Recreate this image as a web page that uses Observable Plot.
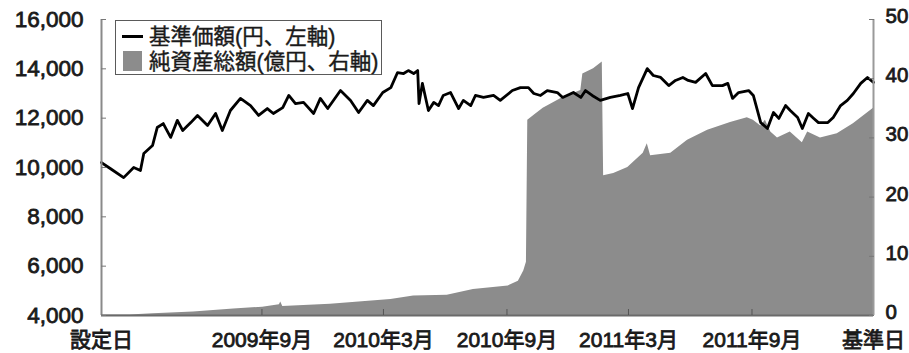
<!DOCTYPE html>
<html><head><meta charset="utf-8">
<script src="https://cdn.jsdelivr.net/npm/d3@7"></script>
<script src="https://cdn.jsdelivr.net/npm/@observablehq/plot@0.6"></script>
<style>
html,body{margin:0;padding:0;background:#fff;overflow:hidden;}
#wrap{position:relative;width:909px;height:353px;}
#wrap svg text{stroke:#1a1a1a;stroke-width:0.8px;paint-order:stroke;}
#legend{position:absolute;left:115px;top:20px;width:267px;height:55px;border:1.5px solid #5a5a5a;background:#fff;box-sizing:border-box;font-family:"Liberation Sans","Noto Sans CJK JP",sans-serif;font-size:21.5px;color:#1a1a1a;-webkit-text-stroke:0.4px #1a1a1a;}
#legend .sym-line{position:absolute;left:5.5px;top:14px;width:21px;height:3px;background:#000;}
#legend .sym-box{position:absolute;left:6.5px;top:30px;width:19px;height:20px;background:#8c8c8c;}
#legend .t{position:absolute;left:33px;line-height:22px;white-space:nowrap;}
</style></head>
<body>
<div id="wrap"></div>
<script>
// ---- data ----
const xStart = "2009-01-05";
const xEnd = "2012-02-29";
const navDates = ["2009-01-05","2009-01-18","2009-02-07","2009-02-22","2009-03-04","2009-03-09","2009-03-22","2009-03-29","2009-04-07","2009-04-18","2009-04-28","2009-05-06","2009-05-18","2009-05-28","2009-06-12","2009-06-24","2009-07-04","2009-07-16","2009-07-31","2009-08-15","2009-08-27","2009-09-09","2009-09-18","2009-10-02","2009-10-11","2009-10-21","2009-11-02","2009-11-17","2009-11-27","2009-12-08","2009-12-27","2010-01-11","2010-01-23","2010-02-05","2010-02-14","2010-02-28","2010-03-12","2010-03-22","2010-03-31","2010-04-07","2010-04-15","2010-04-21","2010-04-23","2010-04-28","2010-05-03","2010-05-07","2010-05-15","2010-05-22","2010-05-29","2010-06-09","2010-06-21","2010-06-28","2010-07-09","2010-07-16","2010-07-28","2010-08-12","2010-08-22","2010-09-09","2010-09-21","2010-10-03","2010-10-11","2010-10-21","2010-10-31","2010-11-15","2010-11-23","2010-12-09","2010-12-20","2010-12-27","2011-01-06","2011-01-18","2011-02-02","2011-02-17","2011-02-28","2011-03-07","2011-03-16","2011-03-29","2011-04-07","2011-04-18","2011-04-30","2011-05-10","2011-05-21","2011-05-29","2011-06-09","2011-06-24","2011-07-04","2011-07-19","2011-07-27","2011-08-03","2011-08-12","2011-08-27","2011-09-03","2011-09-14","2011-09-24","2011-10-03","2011-10-11","2011-10-21","2011-10-28","2011-11-08","2011-11-15","2011-11-24","2011-12-02","2011-12-09","2011-12-23","2011-12-31","2012-01-11","2012-01-21","2012-01-30","2012-02-10","2012-02-20","2012-02-29"];
const navValues = [10200,9960,9590,10000,9880,10570,10890,11620,11780,11220,11910,11500,11820,12110,11700,12190,11500,12310,12800,12510,12110,12390,12190,12430,12920,12590,12640,12190,12800,12390,13120,12720,12230,12720,12510,13040,13240,13850,13810,13930,13810,13930,12590,13410,12800,12310,12640,12510,12920,13040,12390,12720,12510,12920,12840,12920,12720,13120,13240,13240,13000,12920,13120,13040,12840,13040,12840,13120,12920,12720,12840,12920,13000,12390,13240,14010,13730,13650,13320,13530,13650,13530,13450,13810,13320,13320,13410,12800,13040,13120,12920,11820,11580,12230,11990,12510,12310,12030,11580,12190,11990,11820,11820,12030,12510,12720,13000,13410,13650,13450];
const assetDates = ["2009-01-05","2009-02-16","2009-03-23","2009-05-22","2009-07-21","2009-09-02","2009-09-27","2009-09-29","2009-10-02","2009-12-12","2010-03-12","2010-04-15","2010-06-04","2010-07-13","2010-09-03","2010-09-18","2010-09-26","2010-09-30","2010-10-02","2010-10-11","2010-10-25","2010-11-20","2010-12-20","2010-12-23","2011-01-08","2011-01-21","2011-01-23","2011-02-07","2011-02-28","2011-03-19","2011-03-23","2011-03-29","2011-04-03","2011-05-03","2011-05-28","2011-06-27","2011-07-31","2011-08-25","2011-09-03","2011-09-14","2011-09-21","2011-09-29","2011-10-09","2011-10-28","2011-11-15","2011-11-23","2011-12-12","2012-01-06","2012-01-30","2012-02-29"];
const assetValues = [0.1,0.1,0.3,0.6,1.1,1.4,1.8,2.3,1.5,1.9,2.7,3.3,3.4,4.4,5.0,5.8,7.5,9.0,33.0,33.8,35.0,36.6,38.0,40.8,41.7,42.8,23.6,24.0,25.0,27.0,27.4,29.0,27.0,27.4,29.6,31.3,32.6,33.4,33.0,32.0,33.0,31.0,30.0,31.0,29.2,31.0,30.0,30.7,32.4,35.0];
const leftTicks = [4000,6000,8000,10000,12000,14000,16000];
const rightTicks = [0,10,20,30,40,50];
const xTickDates = ["2009-01-05","2009-09-01","2010-03-01","2010-09-01","2011-03-01","2011-09-01","2012-02-29"];
const xTickLabels = ["設定日","2009年9月","2010年3月","2010年9月","2011年3月","2011年9月","基準日"];
const legendLabels = ["基準価額(円、左軸)","純資産総額(億円、右軸)"];

// ---- build ----
const parse = d3.utcParse("%Y-%m-%d");
const nav = navDates.map((d, i) => ({date: parse(d), v: navValues[i]}));
const assets = assetDates.map((d, i) => ({date: parse(d), v: assetValues[i]}));
const L0 = leftTicks[0], L1 = leftTicks[leftTicks.length - 1];
const R1 = rightTicks[rightTicks.length - 1];
const k = (L1 - L0) / R1;
const toLeft = v => L0 + v * k;
const x0 = parse(xStart), x1 = parse(xEnd);
const tickDates = xTickDates.map(parse);
const labelMap = new Map(tickDates.map((d, i) => [+d, xTickLabels[i]]));
const innerTicks = tickDates.slice(1, -1);
const font = '"Liberation Sans","Noto Sans CJK JP",sans-serif';

const chart = Plot.plot({
  width: 909, height: 353,
  marginLeft: 101, marginRight: 36, marginTop: 19, marginBottom: 38,
  x: {type: "utc", domain: [x0, x1]},
  y: {domain: [L0, L1]},
  style: {fontFamily: font, fontSize: "21px", color: "#1a1a1a", background: "#fff"},
  marks: [
    Plot.areaY(assets, {x: "date", y1: L0, y2: d => toLeft(d.v), fill: "#8c8c8c"}),
    Plot.lineY(nav, {x: "date", y: "v", stroke: "#000", strokeWidth: 2.8, strokeLinejoin: "round"}),
    Plot.ruleX([x0], {stroke: "#8a8a8a", strokeWidth: 2}),
    Plot.ruleX([x1], {stroke: "#9a9a9a", strokeWidth: 2}),
    Plot.ruleY([L0], {stroke: "#6a6a6a", strokeWidth: 2}),
    Plot.axisY({anchor: "left", ticks: leftTicks, tickSize: 0, tickPadding: 18, tickFormat: d3.format(","), fontSize: 22.5, label: null}),
    Plot.axisY({anchor: "left", ticks: leftTicks, tickSize: -5, tickFormat: () => "", stroke: "#777", label: null}),
    Plot.axisY({anchor: "right", ticks: rightTicks.map(toLeft), tickSize: 0, tickPadding: 12, dy: -3, tickFormat: d => String(Math.round((d - L0) / k)), textAnchor: "start", fontSize: 20.5, label: null}),
    Plot.axisY({anchor: "right", ticks: rightTicks.map(toLeft), tickSize: -5, tickFormat: () => "", stroke: "#777", label: null}),
    Plot.axisX({anchor: "bottom", ticks: tickDates, tickSize: 0, tickPadding: 17, tickFormat: d => labelMap.get(+d), fontSize: 21, label: null}),
    Plot.axisX({anchor: "bottom", ticks: innerTicks, tickSize: -6, tickFormat: () => "", stroke: "#555", label: null})
  ]
});
const wrap = document.getElementById("wrap");
wrap.appendChild(chart);

const legend = document.createElement("div");
legend.id = "legend";
legend.innerHTML = `<div class="sym-line"></div><div class="t" style="top:4.5px">${legendLabels[0]}</div>
<div class="sym-box"></div><div class="t" style="top:29.5px">${legendLabels[1]}</div>`;
wrap.appendChild(legend);
</script>
</body></html>
